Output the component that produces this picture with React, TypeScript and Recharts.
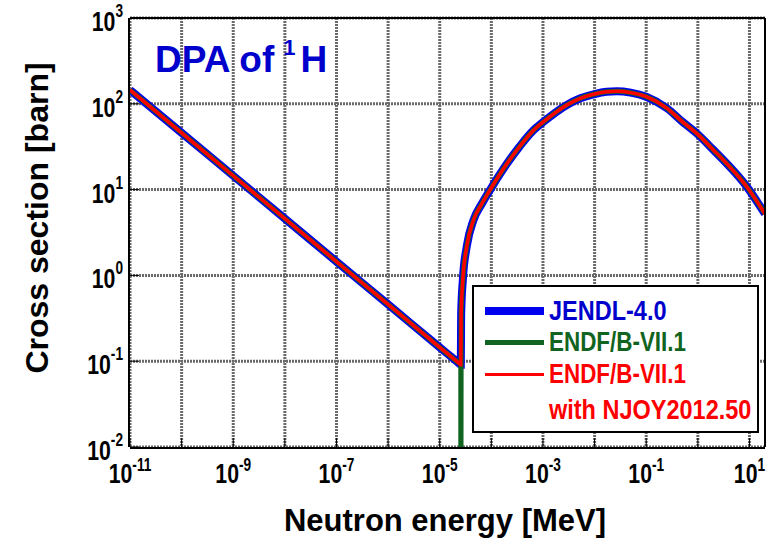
import {
  LineChart,
  Line,
  XAxis,
  YAxis,
  CartesianGrid,
  Legend,
  Label,
  Customized,
} from "recharts";

// neutron energy [MeV] and cross sections [barn]
const energy = [
  1e-11, 1e-10, 1e-9, 1e-8, 1e-7, 1e-6, 1e-5, 2.2e-5, 2.56e-5, 2.6e-5, 2.8e-5,
  3.35e-5, 4.5e-5, 6.5e-5, 1e-4, 2e-4, 3.5e-4, 6.5e-4, 1e-3, 2.9e-3, 5.3e-3,
  1e-2, 1.7e-2, 2.7e-2, 5e-2, 1e-1, 2.5e-1, 5e-1, 1, 2, 3.66, 8.9, 20,
];
const jendl40 = [
  145, 45.9, 14.5, 4.59, 1.45, 0.459, 0.145, 0.098, 0.091, 0.35, 0.88, 2.2,
  4.4, 6.8, 10.5, 20, 31.6, 49, 61, 97, 116, 130, 138, 140, 135, 121, 89, 62,
  44, 29, 20, 10.8, 5.2,
];
const endfb71 = [
  145, 45.9, 14.5, 4.59, 1.45, 0.459, 0.145, 0.098, 0.091, 0.35, 0.88, 2.2,
  4.4, 6.8, 10.5, 20, 31.6, 49, 61, 97, 116, 130, 138, 140, 135, 121, 89, 62,
  44, 29, 20, 10.8, 5.2,
];
const njoy = [
  145, 45.9, 14.5, 4.59, 1.45, 0.459, 0.145, 0.098, 0.091, 0.35, 0.88, 2.2,
  4.4, 6.8, 10.5, 20, 31.6, 49, 61, 97, 116, 130, 138, 140, 135, 121, 89, 62,
  44, 29, 20, 10.8, 5.2,
];
// ENDF/B-VII.1 drops to zero right at the threshold
const endfDipEnergy = [2.561e-5, 2.562e-5];
const endfDipValue = [1e-4, 1e-4];

const xTicks = [
  1e-11, 1e-10, 1e-9, 1e-8, 1e-7, 1e-6, 1e-5, 1e-4, 1e-3, 1e-2, 1e-1, 1, 10,
];
const yTicks = [1e-2, 1e-1, 1, 10, 100, 1000];

const minorOf = (majors: number[], max: number) =>
  majors
    .flatMap((d) => [2, 3, 4, 5, 6, 7, 8, 9].map((m) => m * d))
    .filter((v) => v <= max);
const xMinor = minorOf(xTicks, 20);
const yMinor = minorOf(yTicks, 999);

const rows = (vals: number[]) => energy.map((e, i) => ({ e, v: vals[i] }));
const jendlRows = rows(jendl40);
const njoyRows = rows(njoy);
const endfRows = (() => {
  const r = rows(endfb71);
  const k = energy.indexOf(2.56e-5) + 1;
  const dip = endfDipEnergy.map((e, i) => ({ e, v: endfDipValue[i] }));
  return [...r.slice(0, k), ...dip, ...r.slice(k)];
})();

const FONT = "'Liberation Sans', Arial, Helvetica, sans-serif";
const BLUE = "#0000ee";
const BLUE_TXT = "#0000cc";
const GREEN = "#116420";
const RED = "#ff0000";
const X_DOMAIN: [number, number] = [1e-11, 20];
const Y_DOMAIN: [number, number] = [1e-2, 1e3];
const frame = { stroke: "#000", strokeWidth: 2 };
const tickStroke = { stroke: "#000", strokeWidth: 1 };

const XTick = ({ x, y, payload }: any) => {
  const exp = Math.round(Math.log10(payload.value));
  if (exp % 2 === 0) return null;
  return (
    <text
      transform={`translate(${x},${y + 38}) scale(0.76,1)`}
      textAnchor="middle"
      fontFamily={FONT}
      fontWeight="bold"
      fontSize={28}
      fill="#000"
    >
      10
      <tspan dy={-12} fontSize={18}>
        {exp}
      </tspan>
    </text>
  );
};

const YTick = ({ x, y, payload }: any) => {
  const exp = Math.round(Math.log10(payload.value));
  return (
    <text
      transform={`translate(${x},${y + 13}) scale(0.76,1)`}
      textAnchor="end"
      fontFamily={FONT}
      fontWeight="bold"
      fontSize={28}
      fill="#000"
    >
      10
      <tspan dy={-14} fontSize={18}>
        {exp}
      </tspan>
    </text>
  );
};

const TitleText = () => (
  <text x={155} y={72} fontFamily={FONT} fontWeight="bold" fontSize={37} fill={BLUE_TXT}>
    DPA of
    <tspan dx={9} dy={-17} fontSize={22}>
      1
    </tspan>
    <tspan dx={5} dy={17}>
      H
    </tspan>
  </text>
);

const legendText = (top: number, color: string, sx: number) => ({
  position: "absolute" as const,
  left: 75,
  top,
  color,
  fontFamily: FONT,
  fontWeight: "bold" as const,
  fontSize: 27,
  lineHeight: "27px",
  whiteSpace: "nowrap" as const,
  transform: `scaleX(${sx})`,
  transformOrigin: "left center",
});
const legendLine = (top: number, h: number, color: string) => ({
  position: "absolute" as const,
  left: 11,
  width: 59,
  top: top - h / 2,
  height: h,
  background: color,
});

const LegendBox = () => (
  <div
    style={{
      position: "relative",
      width: 287,
      height: 148,
      boxSizing: "border-box",
      border: "2px solid #000",
      background: "#fff",
    }}
  >
    <div style={legendLine(24, 8, BLUE)} />
    <div style={legendText(11, BLUE_TXT, 0.87)}>JENDL-4.0</div>
    <div style={legendLine(55, 5, GREEN)} />
    <div style={legendText(42, GREEN, 0.83)}>ENDF/B-VII.1</div>
    <div style={legendLine(87.5, 3, RED)} />
    <div style={legendText(74, RED, 0.83)}>ENDF/B-VII.1</div>
    <div style={legendText(110, RED, 0.87)}>with NJOY2012.50</div>
  </div>
);

export default function App() {
  return (
    <div style={{ position: "absolute", left: 0, top: 0 }}>
      <LineChart
        width={773}
        height={544}
        margin={{ top: 17, right: 7, bottom: 95, left: 128 }}
      >
        <CartesianGrid
          stroke="#6a6a6a"
          strokeWidth={3}
          strokeDasharray="2 1"
          verticalValues={xTicks}
          horizontalValues={yTicks}
        />
        {/* minor-tick axes come first so they sit on the plot frame */}
        <XAxis
          xAxisId="bm"
          type="number"
          scale="log"
          domain={X_DOMAIN}
          allowDataOverflow
          ticks={xMinor}
          interval={0}
          height={1}
          tick={false}
          tickSize={-5}
          axisLine={frame}
          tickLine={tickStroke}
        />
        <XAxis
          xAxisId="top"
          orientation="top"
          type="number"
          scale="log"
          domain={X_DOMAIN}
          allowDataOverflow
          ticks={[...xMinor, ...xTicks]}
          interval={0}
          height={1}
          tick={false}
          tickSize={-5}
          axisLine={frame}
          tickLine={tickStroke}
        />
        <XAxis
          dataKey="e"
          type="number"
          scale="log"
          domain={X_DOMAIN}
          allowDataOverflow
          ticks={xTicks}
          interval={0}
          height={1}
          tickSize={-9}
          tickMargin={7}
          tick={<XTick />}
          axisLine={false}
          tickLine={tickStroke}
        >
          <Label
            content={() => (
              <text
                x={445}
                y={531}
                textAnchor="middle"
                fontFamily={FONT}
                fontWeight="bold"
                fontSize={31}
                fill="#000"
              >
                Neutron energy [MeV]
              </text>
            )}
          />
        </XAxis>
        <YAxis
          yAxisId="lm"
          type="number"
          scale="log"
          domain={Y_DOMAIN}
          allowDataOverflow
          ticks={yMinor}
          interval={0}
          width={1}
          tick={false}
          tickSize={-5}
          axisLine={frame}
          tickLine={tickStroke}
        />
        <YAxis
          yAxisId="right"
          orientation="right"
          type="number"
          scale="log"
          domain={Y_DOMAIN}
          allowDataOverflow
          ticks={[...yMinor, ...yTicks]}
          interval={0}
          width={1}
          tick={false}
          tickSize={-5}
          axisLine={frame}
          tickLine={tickStroke}
        />
        <YAxis
          type="number"
          scale="log"
          domain={Y_DOMAIN}
          allowDataOverflow
          ticks={yTicks}
          interval={0}
          width={1}
          tickSize={-9}
          tickMargin={16}
          tick={<YTick />}
          axisLine={false}
          tickLine={tickStroke}
        >
          <Label
            content={() => (
              <text
                x={48}
                y={218}
                transform="rotate(-90, 48, 218)"
                textAnchor="middle"
                fontFamily={FONT}
                fontWeight="bold"
                fontSize={32}
                fill="#000"
              >
                Cross section [barn]
              </text>
            )}
          />
        </YAxis>
        <Line
          data={jendlRows}
          dataKey="v"
          name="JENDL-4.0"
          type="monotone"
          stroke={BLUE}
          strokeWidth={8}
          dot={false}
          isAnimationActive={false}
        />
        <Line
          data={endfRows}
          dataKey="v"
          name="ENDF/B-VII.1"
          type="monotone"
          stroke={GREEN}
          strokeWidth={5}
          dot={false}
          isAnimationActive={false}
        />
        <Line
          data={njoyRows}
          dataKey="v"
          name="ENDF/B-VII.1 with NJOY2012.50"
          type="monotone"
          stroke={RED}
          strokeWidth={3.5}
          dot={false}
          isAnimationActive={false}
        />
        <Customized component={TitleText} />
        <Legend
          layout="vertical"
          align="center"
          verticalAlign="middle"
          wrapperStyle={{ left: 472, top: 285, width: 287, height: 148 }}
          content={() => <LegendBox />}
        />
      </LineChart>
    </div>
  );
}
